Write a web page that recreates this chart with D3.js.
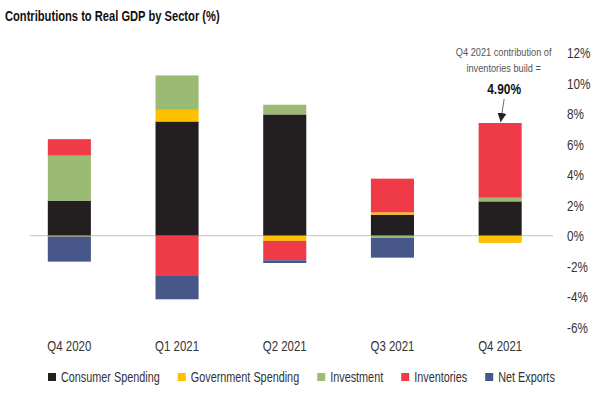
<!DOCTYPE html>
<html>
<head>
<meta charset="utf-8">
<script src="https://cdn.jsdelivr.net/npm/d3@7"></script>
<style>
  body { margin: 0; background: #fff; }
  text { font-family: "Liberation Sans", Arial, sans-serif; }
</style>
</head>
<body>
<div id="container"></div>
<script>
let w = 600;
let h = 399;

// data (percentage points)
let quarters = ["Q4 2020", "Q1 2021", "Q2 2021", "Q3 2021", "Q4 2021"];
let sectors = ["Consumer Spending", "Government Spending", "Investment", "Inventories", "Net Exports"];
let consumer = [2.30, 7.49, 7.95, 1.38, 2.25];
let government = [-0.05, 0.76, -0.34, 0.15, -0.47];
let investment = [2.95, 2.26, 0.64, -0.15, 0.24];
let inventories = [1.08, -2.64, -1.27, 2.21, 4.90];
let netExports = [-1.65, -1.53, -0.18, -1.29, 0];
let yTicks = [-6, -4, -2, 0, 2, 4, 6, 8, 10, 12];
let colors = ["#231F20", "#FFC000", "#9BBB74", "#EF3B47", "#475789"];

let rows = quarters.map((q, i) => ({
  quarter: q,
  "Consumer Spending": consumer[i],
  "Government Spending": government[i],
  "Investment": investment[i],
  "Inventories": inventories[i],
  "Net Exports": netExports[i]
}));

// no narrow font installed, so squeeze the glyphs horizontally
let narrow = 0.78;
function squeeze(sel) {
  sel.each(function() {
    let t = d3.select(this);
    let tx = +t.attr("x") || 0;
    let ty = +t.attr("y") || 0;
    t.attr("x", 0)
     .attr("y", 0)
     .attr("transform", "translate(" + tx + "," + ty + ") scale(" + narrow + ",1)");
  });
}

let viz = d3.select("#container")
  .append("svg")
    .attr("width", w)
    .attr("height", h)
    .style("background-color", "#ffffff")
;

let x = d3.scaleBand()
    .domain(quarters)
    .range([15.5, 554])
    .paddingInner(0.6)
    .paddingOuter(0.3)
;

let y = d3.scaleLinear()
    .domain([-6, 12])
    .range([327.2, 52.7])
;

let color = d3.scaleOrdinal().domain(sectors).range(colors);

// title
viz.append("text")
    .attr("x", 5)
    .attr("y", 21)
    .attr("font-size", 14.3)
    .attr("font-weight", "bold")
    .attr("fill", "#111")
    .text("Contributions to Real GDP by Sector (%)")
    .call(squeeze)
;

// zero line
viz.append("line")
    .attr("x1", 30)
    .attr("x2", 553)
    .attr("y1", y(0))
    .attr("y2", y(0))
    .attr("stroke", "#cfcfcf")
    .attr("stroke-width", 1.2)
;

let stack = d3.stack()
    .keys(sectors)
    .offset(d3.stackOffsetDiverging)
;
let series = stack(rows);

let groups = viz.selectAll(".series").data(series).enter()
  .append("g")
    .attr("class", "series")
    .attr("fill", d => color(d.key))
;

groups.selectAll("rect").data(d => d).enter()
  .append("rect")
    .attr("x", d => x(d.data.quarter))
    .attr("width", x.bandwidth())
    .attr("y", d => y(Math.max(d[0], d[1])))
    .attr("height", d => Math.abs(y(d[0]) - y(d[1])))
;

// y axis on the right
let yAxis = viz.append("g")
    .attr("transform", "translate(567,0)")
    .call(d3.axisRight(y).tickValues(yTicks).tickSize(0).tickPadding(0).tickFormat(d => d + "%"))
;
yAxis.select(".domain").remove();
yAxis.attr("font-family", null);
yAxis.selectAll("text")
    .attr("font-size", 15)
    .attr("fill", "#333")
    .attr("text-anchor", "start")
    .call(squeeze)
;

// category labels
let xAxis = viz.append("g")
    .attr("transform", "translate(0,340.5)")
    .call(d3.axisBottom(x).tickSize(0).tickPadding(0))
;
xAxis.select(".domain").remove();
xAxis.attr("font-family", null);
xAxis.selectAll("text")
    .attr("font-size", 14.7)
    .attr("fill", "#333")
    .call(squeeze)
;

// annotation
let last = quarters.length - 1;
let cx = x(quarters[last]) + x.bandwidth() / 2;
let topY = y(d3.max(series, s => s[last][1]));

viz.append("text")
    .attr("x", cx + 3.5)
    .attr("y", 55.5)
    .attr("text-anchor", "middle")
    .attr("font-size", 11.8)
    .attr("fill", "#555")
    .text("Q4 2021 contribution of")
    .call(squeeze)
;
viz.append("text")
    .attr("x", cx + 3.5)
    .attr("y", 71.5)
    .attr("text-anchor", "middle")
    .attr("font-size", 11.8)
    .attr("fill", "#555")
    .text("inventories build =")
    .call(squeeze)
;
viz.append("text")
    .attr("x", cx + 4)
    .attr("y", 93.5)
    .attr("text-anchor", "middle")
    .attr("font-size", 15.3)
    .attr("font-weight", "bold")
    .attr("fill", "#111")
    .text(inventories[last].toFixed(2) + "%")
    .call(squeeze)
;

viz.append("defs").append("marker")
    .attr("id", "arrow")
    .attr("viewBox", "0 0 10 10")
    .attr("refX", 10)
    .attr("refY", 5)
    .attr("markerWidth", 9)
    .attr("markerHeight", 9)
    .attr("markerUnits", "userSpaceOnUse")
    .attr("orient", "auto")
  .append("path")
    .attr("d", "M0,0L10,5L0,10Z")
    .attr("fill", "#222")
;
viz.append("line")
    .attr("x1", cx + 4)
    .attr("y1", 99)
    .attr("x2", cx + 0.5)
    .attr("y2", topY - 1)
    .attr("stroke", "#444")
    .attr("stroke-width", 0.8)
    .attr("marker-end", "url(#arrow)")
;

// legend
let legend = viz.append("g").attr("transform", "translate(48,377)");
let lx = 0;
sectors.forEach((s, i) => {
  let item = legend.append("g").attr("transform", "translate(" + lx + ",0)");
  item.append("rect")
      .attr("x", 0)
      .attr("y", -4)
      .attr("width", 8)
      .attr("height", 8)
      .attr("fill", colors[i])
  ;
  let t = item.append("text")
      .attr("x", 13)
      .attr("y", 5)
      .attr("font-size", 13.9)
      .attr("fill", "#333")
      .text(s)
  ;
  let len = t.node().getComputedTextLength() * narrow;
  t.call(squeeze);
  lx += 13 + len + 18;
});
</script>
</body>
</html>
